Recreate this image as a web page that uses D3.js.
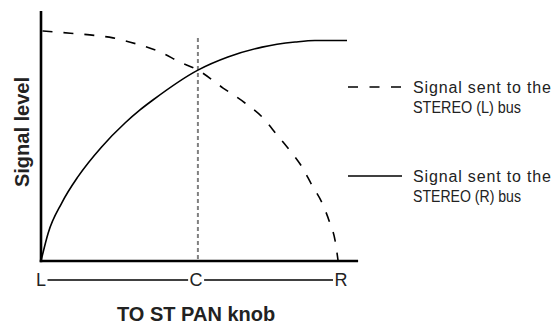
<!DOCTYPE html>
<html>
<head>
<meta charset="utf-8">
<script src="https://cdn.jsdelivr.net/npm/d3@7"></script>
<style>
  html, body { margin: 0; padding: 0; background: #fff; }
  svg { display: block; font-family: "Liberation Sans", Arial, Helvetica, sans-serif; }
</style>
</head>
<body>
<svg id="chart" width="558" height="325"></svg>
<script>
// Pan position (0 = L, 100 = R) and relative signal level (0..100)
const panTicks = ["L", "C", "R"];
const panTickPos = [0, 51.7, 100];
const centerPos = 52.3;

// Signal sent to the STEREO (L) bus — dashed curve
const leftPos   = [0.5, 7.3, 16.3, 24, 32, 39.7, 46.3, 52.3, 60.7, 68, 73.7, 78.7, 82.3, 87, 90.3, 93.7, 96.3, 98, 99];
const leftLevel = [100, 99.3, 98.3, 97, 94.3, 90.9, 86.5, 83, 75.2, 68.7, 62.6, 54.8, 49.1, 40.9, 33, 25.2, 16.5, 9.1, 0.4];

// Signal sent to the STEREO (R) bus — solid curve
const rightPos   = [0, 2.4, 6.9, 12.4, 20.2, 28, 33, 37.3, 52.3, 62.3, 73.7, 84.7, 91.3, 102];
const rightLevel = [0, 12.2, 25.2, 36.8, 49.6, 60, 65.7, 70, 83, 88.7, 93, 95.2, 95.9, 95.9];

const legendLabels = [
  ["Signal sent to the", "STEREO (L) bus"],
  ["Signal sent to the", "STEREO (R) bus"]
];
const axisTitleX = "TO ST PAN knob";
const axisTitleY = "Signal level";

const svg = d3.select("#chart");

const x = d3.scaleLinear().domain([0, 100]).range([41, 341]);
const y = d3.scaleLinear().domain([0, 100]).range([261, 31]);

const line = d3.line()
  .x(d => x(d[0]))
  .y(d => y(d[1]))
  .curve(d3.curveMonotoneX);

const leftData = leftPos.map((p, i) => [p, leftLevel[i]]);
const rightData = rightPos.map((p, i) => [p, rightLevel[i]]);

// centre marker
svg.append("line")
  .attr("x1", x(centerPos)).attr("x2", x(centerPos))
  .attr("y1", y(97)).attr("y2", y(0))
  .attr("stroke", "#808080")
  .attr("stroke-width", 2)
  .attr("stroke-dasharray", "4,3");

// curves
svg.append("path")
  .datum(leftData)
  .attr("d", line)
  .attr("fill", "none")
  .attr("stroke", "#000")
  .attr("stroke-width", 1.6)
  .attr("stroke-dasharray", "10,11");

svg.append("path")
  .datum(rightData)
  .attr("d", line)
  .attr("fill", "none")
  .attr("stroke", "#000")
  .attr("stroke-width", 1.6);

// axes
svg.append("line")
  .attr("x1", x(0)).attr("x2", x(0))
  .attr("y1", y(108.7)).attr("y2", y(0) + 1.2)
  .attr("stroke", "#000").attr("stroke-width", 2.6);
svg.append("line")
  .attr("x1", x(0) - 1.3).attr("x2", x(105.7))
  .attr("y1", y(0)).attr("y2", y(0))
  .attr("stroke", "#000").attr("stroke-width", 2.6);

// L / C / R scale under the axis
const scaleY = 280;
const tickTexts = svg.append("g").selectAll("text")
  .data(panTicks)
  .join("text")
  .attr("x", (d, i) => x(panTickPos[i]))
  .attr("y", scaleY)
  .attr("dy", "0.36em")
  .attr("text-anchor", "middle")
  .attr("font-size", 18)
  .attr("fill", "#222")
  .text(d => d);

const boxes = tickTexts.nodes().map(n => n.getBBox());
for (let i = 0; i < boxes.length - 1; i++) {
  svg.append("line")
    .attr("x1", boxes[i].x + boxes[i].width + 1.5)
    .attr("x2", boxes[i + 1].x - 1.5)
    .attr("y1", scaleY).attr("y2", scaleY)
    .attr("stroke", "#000").attr("stroke-width", 1.3);
}

// axis titles
svg.append("text")
  .attr("x", x(panTickPos[1]))
  .attr("y", 321)
  .attr("text-anchor", "middle")
  .attr("font-size", 20)
  .attr("font-weight", "bold")
  .attr("fill", "#222")
  .text(axisTitleX);

svg.append("text")
  .attr("transform", "translate(29,132) rotate(-90)")
  .attr("text-anchor", "middle")
  .attr("font-size", 20)
  .attr("font-weight", "bold")
  .attr("fill", "#222")
  .text(axisTitleY);

// legend
const legendRows = [
  { y: 87, dash: "10,11.5" },
  { y: 176, dash: null }
];
const legendLineWidths = [138, 108];
legendRows.forEach((row, i) => {
  svg.append("line")
    .attr("x1", 348).attr("x2", 402)
    .attr("y1", row.y).attr("y2", row.y)
    .attr("stroke", "#000").attr("stroke-width", 1.6)
    .attr("stroke-dasharray", row.dash);
  legendLabels[i].forEach((s, j) => {
    svg.append("text")
      .attr("x", 413)
      .attr("y", row.y + 6 + j * 19.5)
      .attr("font-size", 16)
      .attr("fill", "#222")
      .attr("textLength", legendLineWidths[j])
      .attr("lengthAdjust", j === 0 ? "spacing" : "spacingAndGlyphs")
      .text(s);
  });
});
</script>
</body>
</html>
